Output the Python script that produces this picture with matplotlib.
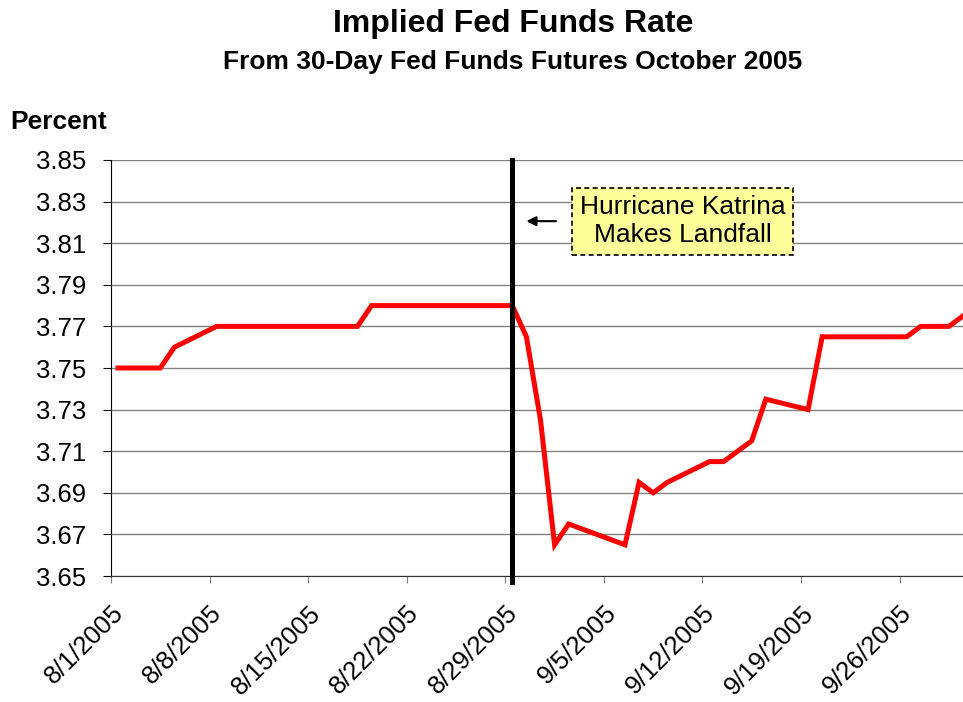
import matplotlib
matplotlib.use("Agg")
import matplotlib.pyplot as plt
import matplotlib.dates as mdates
from datetime import datetime, timedelta

plt.rcParams['font.family'] = ['Liberation Sans', 'DejaVu Sans']

# implied rate from October fed funds futures, trading days Aug-Sep 2005
dates = ["2005-08-01", "2005-08-02", "2005-08-03", "2005-08-04", "2005-08-05",
         "2005-08-08", "2005-08-09", "2005-08-10", "2005-08-11", "2005-08-12",
         "2005-08-15", "2005-08-16", "2005-08-17", "2005-08-18", "2005-08-19",
         "2005-08-22", "2005-08-23", "2005-08-24", "2005-08-25", "2005-08-26",
         "2005-08-29", "2005-08-30", "2005-08-31", "2005-09-01", "2005-09-02",
         "2005-09-06", "2005-09-07", "2005-09-08", "2005-09-09",
         "2005-09-12", "2005-09-13", "2005-09-14", "2005-09-15", "2005-09-16",
         "2005-09-19", "2005-09-20", "2005-09-21", "2005-09-22", "2005-09-23",
         "2005-09-26", "2005-09-27", "2005-09-28", "2005-09-29", "2005-09-30"]
rates = [3.75, 3.75, 3.75, 3.75, 3.76,
         3.77, 3.77, 3.77, 3.77, 3.77,
         3.77, 3.77, 3.77, 3.77, 3.78,
         3.78, 3.78, 3.78, 3.78, 3.78,
         3.78, 3.765, 3.725, 3.665, 3.675,
         3.665, 3.695, 3.69, 3.695,
         3.705, 3.705, 3.71, 3.715, 3.735,
         3.73, 3.765, 3.765, 3.765, 3.765,
         3.765, 3.77, 3.77, 3.77, 3.775]
tick_dates = ["2005-08-01", "2005-08-08", "2005-08-15", "2005-08-22", "2005-08-29",
              "2005-09-05", "2005-09-12", "2005-09-19", "2005-09-26"]
landfall = "2005-08-29"

# points sit in the middle of each day slot
half = timedelta(hours=12)
x = [datetime.strptime(d, "%Y-%m-%d") + half for d in dates]
ticks = [datetime.strptime(d, "%Y-%m-%d") for d in tick_dates]
start = ticks[0]

fig = plt.figure(figsize=(9.63, 7.02), dpi=100)
ax = fig.add_axes([111/963, 1 - 576/702, 859/963, 416/702])

ax.set_ylim(3.65, 3.85)
ax.set_yticks([3.65 + 0.02*i for i in range(11)])
ax.yaxis.set_major_formatter(matplotlib.ticker.FormatStrFormatter('%.2f'))
ax.set_xlim(start, start + timedelta(days=61))
ax.set_xticks(ticks)
ax.set_xticklabels([f"{t.month}/{t.day}/{t.year}" for t in ticks],
                   rotation=45, ha='right', va='top', rotation_mode='anchor')

ax.grid(axis='y', color='#808080', linewidth=1.0)
ax.set_axisbelow(True)
for s in ['top', 'right']:
    ax.spines[s].set_visible(False)
ax.spines['left'].set_color('black')
ax.spines['bottom'].set_color('#333333')
ax.tick_params(axis='y', length=6, width=0.8, labelsize=18.5, pad=12)
ax.tick_params(axis='x', length=5, width=0.8, color='#808080', labelsize=18.5, pad=13)

ax.plot(x, rates, color='#ff0000', linewidth=3.6, solid_joinstyle='miter', zorder=3)

lx = datetime.strptime(landfall, "%Y-%m-%d") + half
ax.axvline(lx, ymin=-0.015, ymax=1, color='black', linewidth=3.6, zorder=4, clip_on=False)

ax.text(start + timedelta(days=40.6), 3.8205, "Hurricane Katrina\nMakes Landfall",
        ha='center', va='center', fontsize=19, linespacing=1.2,
        bbox=dict(boxstyle='square,pad=0.3', facecolor='#ffff99', edgecolor='black',
                  linestyle=(0, (3, 2)), linewidth=1.2), zorder=5)
ax.annotate("", xy=(start + timedelta(days=29.3), 3.8206),
            xytext=(start + timedelta(days=31.8), 3.8206),
            arrowprops=dict(arrowstyle='-|>', color='black', linewidth=1.5,
                            mutation_scale=14), zorder=5)

fig.text(513/963, 1 - 9/702, "Implied Fed Funds Rate", ha='center', va='top',
         fontsize=23, fontweight='bold')
fig.text(513/963, 1 - 50/702, "From 30-Day Fed Funds Futures October 2005", ha='center',
         va='top', fontsize=19, fontweight='bold')
fig.text(10/963, 1 - 110/702, "Percent", ha='left', va='top', fontsize=19,
         fontweight='bold')

fig.savefig("out.png", dpi=100)
